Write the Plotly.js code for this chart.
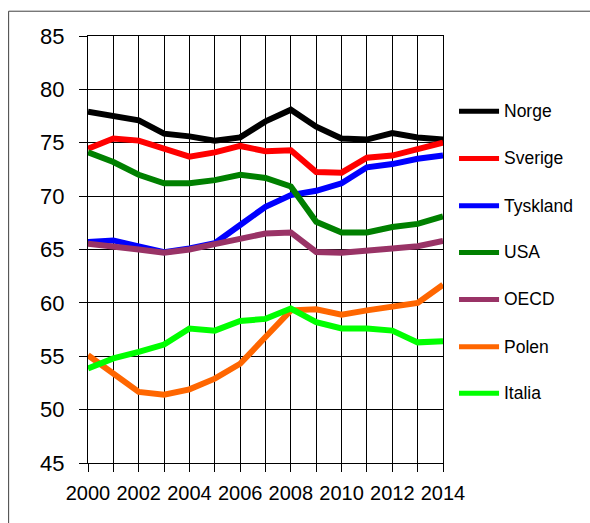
<!DOCTYPE html>
<html>
<head>
<meta charset="utf-8">
<script src="https://cdn.plot.ly/plotly-3.0.1.min.js"></script>
<style>
html,body{margin:0;padding:0;background:#fff;}
#chart{width:590px;height:523px;}
</style>
</head>
<body>
<div id="chart"></div>
<script>
var years = [2000,2001,2002,2003,2004,2005,2006,2007,2008,2009,2010,2011,2012,2013,2014];
var norge    = [77.9,77.5,77.1,75.85,75.6,75.2,75.5,77.0,78.1,76.5,75.4,75.3,75.9,75.5,75.3];
var sverige  = [74.45,75.4,75.2,74.5,73.7,74.1,74.7,74.2,74.3,72.25,72.2,73.6,73.8,74.4,75.0];
var tyskland = [65.7,65.85,65.3,64.75,65.1,65.6,67.3,69.0,70.1,70.5,71.2,72.7,73.0,73.5,73.8];
var usa      = [74.1,73.2,72.0,71.2,71.2,71.5,72.0,71.7,70.9,67.6,66.6,66.6,67.1,67.4,68.1];
var oecd     = [65.55,65.33,65.0,64.7,65.0,65.5,66.0,66.5,66.6,64.77,64.7,64.83,65.1,65.3,65.8];
var polen    = [55.1,53.4,51.66,51.4,51.9,52.9,54.3,56.8,59.3,59.4,58.9,59.3,59.7,60.0,61.7];
var italia   = [53.85,54.8,55.4,56.1,57.6,57.4,58.3,58.5,59.47,58.2,57.6,57.6,57.4,56.3,56.4];

var seriesNames  = ["Norge","Sverige","Tyskland","USA","OECD","Polen","Italia"];
var seriesValues = [norge, sverige, tyskland, usa, oecd, polen, italia];
var seriesColors = ["#000000","#FF0000","#0000FF","#008000","#993366","#FF6600","#00FF00"];

var xTickVals = years;
var xTickText = years.map(function(y){ return (y % 2 === 0) ? String(y) : ""; });
var yTickVals = [45,50,55,60,65,70,75,80,85];

// plot area in pixels
var L = 88.3, R = 443, T = 35.8, B = 463;
function px(x){ return (x - L) / (R - L); }
function py(y){ return (B - y) / (B - T); }

var traces = seriesNames.map(function(n, i){
  return {
    x: years, y: seriesValues[i], name: n, type: 'scatter', mode: 'lines',
    line: {color: seriesColors[i], width: 6},
    showlegend: false, hoverinfo: 'x+y+name'
  };
});

var shapes = [];
var annotations = [];
// outer frame
shapes.push({type:'rect', xref:'paper', yref:'paper',
  x0: px(9), x1: px(620), y0: py(560), y1: py(11),
  line:{color:'#404040', width:1}, fillcolor:'rgba(0,0,0,0)', layer:'below'});

var legY = [111, 158.3, 205.7, 252.3, 299.3, 346.7, 393.3];
seriesNames.forEach(function(n, i){
  shapes.push({type:'line', xref:'paper', yref:'paper',
    x0: px(459), x1: px(499), y0: py(legY[i]), y1: py(legY[i]),
    line:{color: seriesColors[i], width: 5}});
  annotations.push({xref:'paper', yref:'paper', x: px(502), y: py(legY[i]),
    xanchor:'left', yanchor:'middle', showarrow:false, text: n,
    font:{family:'Liberation Sans, Arial, sans-serif', size:17.5, color:'#000'}});
});

var layout = {
  width: 590, height: 523,
  margin: {l: L, r: 590 - R, t: T, b: 523 - B, pad: 0},
  paper_bgcolor: '#fff', plot_bgcolor: '#fff',
  showlegend: false,
  font: {family: 'Liberation Sans, Arial, sans-serif', color: '#000'},
  xaxis: {
    range: [2000, 2014], tickvals: xTickVals, ticktext: xTickText,
    showgrid: true, gridcolor: '#000', gridwidth: 1,
    ticks: 'outside', ticklen: 8, tickcolor: '#000', tickwidth: 1,
    showline: true, linecolor: '#000', linewidth: 1, mirror: true,
    zeroline: false, tickfont: {size: 20}, ticklabelstandoff: 4,
    fixedrange: true
  },
  yaxis: {
    range: [45, 85], tickvals: yTickVals,
    showgrid: true, gridcolor: '#000', gridwidth: 1,
    ticks: 'outside', ticklen: 8, tickcolor: '#000', tickwidth: 1,
    showline: true, linecolor: '#000', linewidth: 1, mirror: true,
    zeroline: false, tickfont: {size: 22}, ticklabelstandoff: 10,
    fixedrange: true
  },
  shapes: shapes,
  annotations: annotations
};

Plotly.newPlot('chart', traces, layout, {displayModeBar: false, staticPlot: true});
</script>
</body>
</html>
